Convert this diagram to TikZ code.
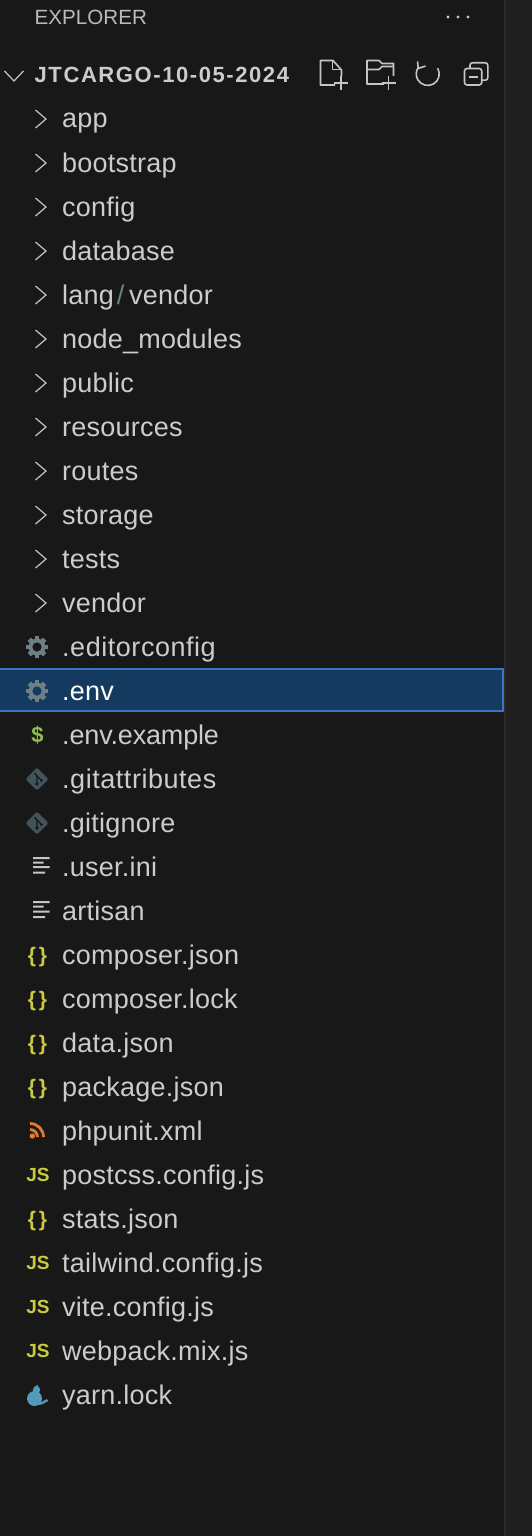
\documentclass[tikz,border=0pt]{standalone}
\usepackage{fontspec}
\setmainfont{Liberation Sans}
\newfontfamily\rowfont[LetterSpace=0.9]{Liberation Sans}
\newfontfamily\rowwide[LetterSpace=2.0]{Liberation Sans}
\newfontfamily\rownarrow[LetterSpace=-0.6]{Liberation Sans}
\newfontfamily\titlefont[LetterSpace=7.2]{Liberation Sans}
\definecolor{panelbg}{HTML}{181818}
\definecolor{sidebg}{HTML}{1F1F1F}
\definecolor{edgecol}{HTML}{2B2B2B}
\definecolor{rowtext}{HTML}{CCCCCC}
\definecolor{headtext}{HTML}{BBBBBB}
\definecolor{iconcol}{HTML}{C5C5C5}
\definecolor{selfill}{HTML}{153A5F}
\definecolor{selline}{HTML}{3A74C2}
\definecolor{gearcol}{HTML}{6D8086}
\definecolor{gitcol}{HTML}{41535B}
\definecolor{jsoncol}{HTML}{CBCB41}
\definecolor{dollarcol}{HTML}{8DC149}
\definecolor{rsscol}{HTML}{E37933}
\definecolor{yarncol}{HTML}{519ABA}
\tikzset{
  rowlabel/.style={anchor=base west,inner sep=0pt,text=rowtext,font=\rowfont\fontsize{27}{30}\selectfont},
  glyph/.style={anchor=base,inner sep=0pt,font=\bfseries\fontsize{20}{22}\selectfont},
  chev/.style={draw=iconcol,line width=1.2pt,line join=miter},
  tool/.style={draw=iconcol,line width=1.6pt,line join=round},
}
\newcommand{\chevronicon}[1]{\draw[chev] (35.5,#1-9) -- (46,#1) -- (35.5,#1+9);}
\newcommand{\gearicon}[2]{%
  \fill[gearcol] (37,#1) circle[radius=8.4];
  \foreach \a in {0,45,...,315}{\fill[gearcol,rotate around={\a:(37,#1)}] (34.6,#1-10.8) rectangle (39.4,#1-6);}
  \fill[#2] (37,#1) circle[radius=4.6];}
\newcommand{\giticon}[1]{%
  \fill[gitcol,rounded corners=2pt] (37,#1-11.5) -- (48.5,#1) -- (37,#1+11.5) -- (25.5,#1) -- cycle;
  \draw[panelbg,line width=1.3pt] (34.5,#1-6) -- (37,#1-3) -- (37,#1+5) (37,#1-3) -- (41.5,#1+1.5);
  \fill[panelbg] (37,#1+5) circle[radius=1.8] (41.5,#1+1.5) circle[radius=1.5];}
\newcommand{\linesicon}[5]{%
  \fill[iconcol] (33,#1+#2-1) rectangle (49.5,#1+#2+1)
                 (33,#1+#3-1) rectangle (43.5,#1+#3+1)
                 (33,#1+#4-1) rectangle (49.5,#1+#4+1)
                 (33,#1+#5-1) rectangle (45,#1+#5+1);}
\begin{document}
\begin{tikzpicture}[x=1pt,y=-1pt]
\useasboundingbox (0,0) rectangle (532,1536);
\fill[panelbg] (0,0) rectangle (532,1536);
\fill[sidebg] (506,0) rectangle (532,1536);
\fill[edgecol] (504,0) rectangle (506,1536);
% header
\node[anchor=base west,inner sep=0pt,text=headtext,font=\fontsize{20.6}{24}\selectfont] (explorer) at (34.5,25) {EXPLORER};
\fill[iconcol] (448,17) circle[radius=1.7] (458,17) circle[radius=1.7] (468,17) circle[radius=1.7];
\draw[chev] (4.5,71) -- (14,81) -- (23.5,71);
\node[anchor=base west,inner sep=0pt,text=rowtext,font=\titlefont\bfseries\fontsize{22}{24}\selectfont] (project) at (34.5,83) {JTCARGO-10-05-2024};
% new file
\draw[tool] (335,85) -- (320.5,85) -- (320.5,60.5) -- (333,60.5) -- (341.5,70) -- (341.5,76);
\draw[tool] (332.5,60.5) -- (332.5,69.5) -- (341.5,69.5);
\draw[tool] (340.7,76) -- (340.7,90) (333.7,83.3) -- (347.7,83.3);
% new folder
\draw[tool] (384,84) -- (367,84) -- (367,60.5) -- (379,60.5) -- (382,63.5) -- (393.5,63.5) -- (393.5,76);
\draw[tool] (367,69.5) -- (379,69.5) -- (382,66.5) -- (393.5,66.5);
\draw[tool] (388.5,76) -- (388.5,90) (381.5,83.3) -- (395.5,83.3);
% refresh
\draw[tool] (437.7,68.2) arc[start angle=-30,end angle=215,radius=11.5];
\draw[tool] (417.5,61.5) -- (418.3,68.5) -- (425.5,66);
% collapse
\draw[tool,rounded corners=2.5pt] (470,68) -- (470,62.8) -- (487.8,62.8) -- (487.8,80.2) -- (482,80.2);
\draw[tool,rounded corners=2.5pt] (464.5,68.5) rectangle (481.7,85);
\draw[tool] (468.5,76.8) -- (477.7,76.8);
% selected row
\fill[selfill] (0,668) rectangle (503,712);
\draw[selline,line width=2pt] (-2,669) -- (503,669) -- (503,711) -- (-2,711);
% folders
\foreach \n/\lab [count=\i from 0] in {app/app,boot/bootstrap,conf/config,dbase/database,langr/lang,nmod/node\_modules,pub/public,res/resources,rout/routes,stor/storage,tests/tests,vend/vendor}{
  \pgfmathsetmacro{\yy}{119+44*\i}
  \chevronicon{\yy}
  \node[rowlabel] (\n) at (62,\yy+9) {\lab};
}
\node[anchor=base,inner sep=0pt,text=gearcol,font=\fontsize{27}{30}\selectfont] (slash) at (120.5,304) {/};
\node[rowlabel] (langv) at (129,304) {vendor};
% files
\node[rowlabel,font=\rowwide\fontsize{27}{30}\selectfont] (feditor) at (62,656) {.editorconfig};
\node[rowlabel,text=white] (fenv) at (62,700) {.env};
\node[rowlabel,font=\rownarrow\fontsize{27}{30}\selectfont] (fexample) at (62,744) {.env.example};
\node[rowlabel,font=\rowwide\fontsize{27}{30}\selectfont] (fattr) at (62,788) {.gitattributes};
\node[rowlabel] (fignore) at (62,832) {.gitignore};
\node[rowlabel] (fini) at (62,876) {.user.ini};
\node[rowlabel] (fartisan) at (62,920) {artisan};
\node[rowlabel] (fcomposer) at (62,964) {composer.json};
\node[rowlabel] (flock) at (62,1008) {composer.lock};
\node[rowlabel] (fdata) at (62,1052) {data.json};
\node[rowlabel] (fpackage) at (62,1096) {package.json};
\node[rowlabel] (fphpunit) at (62,1140) {phpunit.xml};
\node[rowlabel] (fpostcss) at (62,1184) {postcss.config.js};
\node[rowlabel] (fstats) at (62,1228) {stats.json};
\node[rowlabel] (ftailwind) at (62,1272) {tailwind.config.js};
\node[rowlabel] (fvite) at (62,1316) {vite.config.js};
\node[rowlabel] (fwebpack) at (62,1360) {webpack.mix.js};
\node[rowlabel] (fyarn) at (62,1404) {yarn.lock};
% icons
\gearicon{647}{panelbg}
\gearicon{691}{selfill}
\node[glyph,text=dollarcol,font=\bfseries\fontsize{22}{24}\selectfont] (idollar) at (37.5,742.5) {\$};
\giticon{779}
\giticon{823}
\linesicon{867}{-9}{-4.5}{0}{5.5}
\linesicon{911}{-9}{-4.5}{0.5}{6}
\foreach \yy/\n in {955/a,999/b,1043/c,1087/d,1219/e}{
  \node[glyph,text=jsoncol,font=\bfseries\fontsize{21}{24}\selectfont] (ibrace\n) at (37.5,\yy+7) {\{\hspace{3pt}\}};
}
\foreach \yy/\n in {1175/a,1263/b,1307/c,1351/d}{
  \node[glyph,text=jsoncol,font=\bfseries\fontsize{19}{20}\selectfont] (ijs\n) at (38,\yy+6.5) {JS};
}
% rss
\fill[rsscol] (32.3,1136) circle[radius=2.7];
\draw[rsscol,line width=2.8pt] (30,1129.5) arc[start angle=-90,end angle=0,radius=7.5];
\draw[rsscol,line width=2.8pt] (30,1123.5) arc[start angle=-90,end angle=0,radius=13.5];
% yarn cat
\fill[yarncol] (36.5,1390) ellipse[x radius=3.6,y radius=4.2];
\fill[yarncol] (37.2,1384.5) -- (39.5,1389) -- (34,1389) -- cycle;
\fill[yarncol] (34.5,1398.5) ellipse[x radius=7.5,y radius=7.5];
\draw[yarncol,line width=2.4pt,line cap=round] (38,1404) -- (42,1403) -- (47,1400.3);
\end{tikzpicture}
\end{document}
